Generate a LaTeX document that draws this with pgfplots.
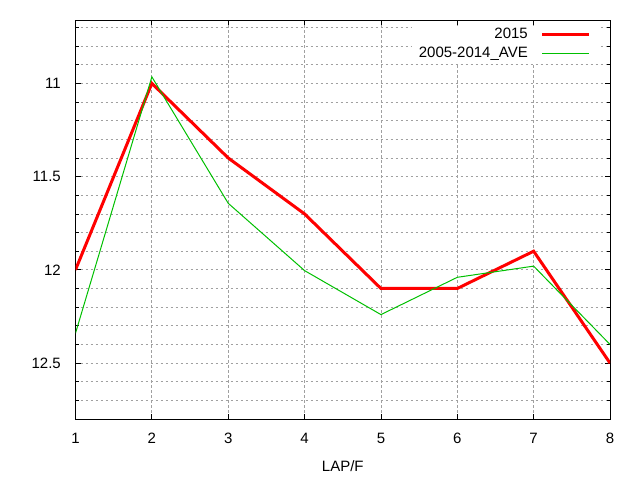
\documentclass[border=0pt]{standalone}
\usepackage{fontspec}
\setmainfont{Liberation Sans}
\usepackage{pgfplots}
\pgfplotsset{compat=1.18}

\definecolor{gridgray}{RGB}{160,160,160}
\definecolor{gpgreen}{RGB}{0,192,0}

\begin{document}
\fontsize{15}{18}\selectfont
\begin{tikzpicture}
\begin{axis}[
    scale only axis,
    width=534.5pt, height=399pt,
    xmin=1, xmax=8,
    ymin=10.66, ymax=12.8,
    y dir=reverse,
    xtick={1,2,3,4,5,6,7,8},
    ytick={11,11.5,12,12.5},
    minor ytick={10.7,10.8,10.9,11.1,11.2,11.3,11.4,11.6,11.7,11.8,11.9,12.1,12.2,12.3,12.4,12.6,12.7},
    grid=both,
    major grid style={gridgray, dash pattern=on 2.5pt off 2.5pt, line width=0.8pt},
    minor grid style={gridgray, dash pattern=on 2.5pt off 2.5pt, line width=0.8pt},
    tick align=inside,
    major tick length=5pt,
    minor tick length=3pt,
    tick style={black, line width=0.8pt},
    axis line style={line width=1pt},
    /pgf/number format/assume math mode=true,
    every tick label/.append style={font=\fontsize{15}{18}\selectfont, inner sep=0pt},
    yticklabel style={xshift=-14.5pt},
    xticklabel style={yshift=-13.7pt},
    xlabel={LAP/F},
    xlabel style={at={(axis description cs:0.5,0)}, anchor=north, inner sep=0pt,
                  yshift=-41pt, font=\fontsize{15}{18}\selectfont},
    legend plot pos=right,
    legend cell align=right,
    legend image code/.code={\draw[#1] (0pt,0pt) -- (47pt,0pt);},
    legend style={at={(axis description cs:1,1)}, anchor=north east,
                  xshift=-12pt, yshift=-5.4pt, draw=none, fill=white,
                  inner xsep=7pt, inner ysep=2pt,
                  font=\fontsize{15}{18}\selectfont,
                  nodes={inner sep=0pt, text height=11pt, text depth=3pt},
                  row sep=5pt, column sep=13pt},
]

\addplot[red, line width=3pt] coordinates {
    (1,12.0)(2,11.0)(3,11.4)(4,11.7)(5,12.1)(6,12.1)(7,11.9)(8,12.5)
};
\addlegendentry{2015}

\addplot[gpgreen, line width=1pt] coordinates {
    (1,12.34)(2,10.965)(3,11.643)(4,12.004)(5,12.24)(6,12.04)(7,11.98)(8,12.4)
};
\addlegendentry{2005-2014\_AVE}

\end{axis}
\pgfresetboundingbox
\path[use as bounding box] ([shift={(-75.5pt,-61pt)}]current axis.south west)
    rectangle ([shift={(30pt,20pt)}]current axis.north east);
\end{tikzpicture}
\end{document}
